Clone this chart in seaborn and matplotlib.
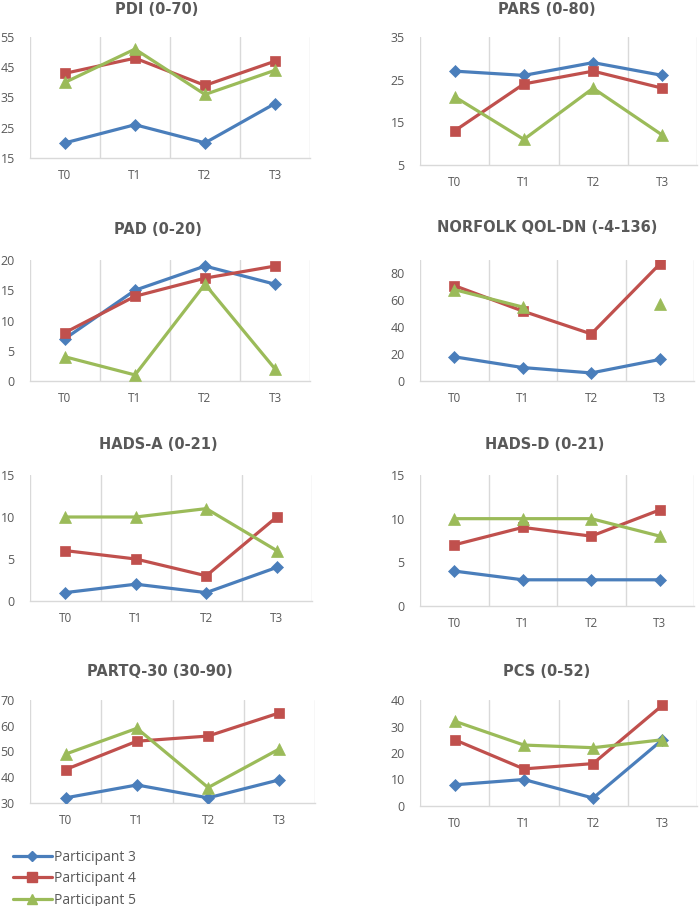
import numpy as np
import pandas as pd
import matplotlib
matplotlib.use("Agg")
import matplotlib.pyplot as plt
from matplotlib.lines import Line2D
import seaborn as sns

sns.set_theme(style="white")
plt.rcParams["font.family"] = ["Open Sans", "DejaVu Sans"]

timepoints = ["T0", "T1", "T2", "T3"]
participants = ["Participant 3", "Participant 4", "Participant 5"]

pdi = [[20, 26, 20, 33], [43, 48, 39, 47], [40, 51, 36, 44]]
pars = [[27, 26, 29, 26], [13, 24, 27, 23], [21, 11, 23, 12]]
pad = [[7, 15, 19, 16], [8, 14, 17, 19], [4, 1, 16, 2]]
norfolk = [[18, 10, 6, 16], [71, 52, 35, 87], [68, 55, np.nan, 57]]
hads_a = [[1, 2, 1, 4], [6, 5, 3, 10], [10, 10, 11, 6]]
hads_d = [[4, 3, 3, 3], [7, 9, 8, 11], [10, 10, 10, 8]]
partq = [[32, 37, 32, 39], [43, 54, 56, 65], [49, 59, 36, 51]]
pcs = [[8, 10, 3, 25], [25, 14, 16, 38], [32, 23, 22, 25]]

colors = ["#4A7EBB", "#C0504D", "#9BBB59"]
markers = ["D", "s", "^"]
msizes = [6.5, 7.5, 8.5]

W, H = 699, 906
fig = plt.figure(figsize=(W / 100, H / 100), dpi=100)

# (title, data, ylim, yticks, axes box in px (x0, x1, y0, y1), title pos px)
panels = [
    ("PDI (0-70)", pdi, (15, 55), [15, 25, 35, 45, 55], (30, 310, 37, 158), (157, 9)),
    ("PARS (0-80)", pars, (5, 35), [5, 15, 25, 35], (420, 697, 37, 165), (547, 9)),
    ("PAD (0-20)", pad, (0, 20), [0, 5, 10, 15, 20], (30, 310, 260, 381), (158, 229)),
    ("NORFOLK QOL-DN (-4-136)", norfolk, (0, 90), [0, 20, 40, 60, 80], (420, 694, 260, 381), (547, 228)),
    ("HADS-A (0-21)", hads_a, (0, 15), [0, 5, 10, 15], (30, 312, 475, 601), (158, 444)),
    ("HADS-D (0-21)", hads_d, (0, 15), [0, 5, 10, 15], (420, 694, 475, 606), (545, 444)),
    ("PARTQ-30 (30-90)", partq, (30, 70), [30, 40, 50, 60, 70], (30, 315, 700, 803), (160, 671)),
    ("PCS (0-52)", pcs, (0, 40), [0, 10, 20, 30, 40], (420, 697, 700, 806), (547, 671)),
]

grid_c = "#D9D9D9"
text_c = "#595959"
xs = np.arange(len(timepoints))

for title, data, ylim, yticks, box, tpos in panels:
    x0, x1, y0, y1 = box
    ax = fig.add_axes([x0 / W, 1 - y1 / H, (x1 - x0) / W, (y1 - y0) / H])
    for i, vals in enumerate(data):
        vals = np.array(vals, dtype=float)
        # split into runs of valid values so gaps are not bridged
        ok = ~np.isnan(vals)
        runs, cur = [], []
        for k in range(len(vals)):
            if ok[k]:
                cur.append(k)
            elif cur:
                runs.append(cur)
                cur = []
        if cur:
            runs.append(cur)
        for r in runs:
            sns.lineplot(x=xs[r], y=vals[r], ax=ax, color=colors[i],
                         marker=markers[i], markersize=msizes[i],
                         markeredgecolor=colors[i], markeredgewidth=0.5,
                         linewidth=2.3, legend=False, zorder=3 + i)
    ax.set_xlim(-0.5, 3.5)
    ax.set_ylim(*ylim)
    ax.set_yticks(yticks)
    ax.set_xticks(xs)
    ax.set_xticklabels(timepoints)
    for g in np.arange(-0.5, 4.0, 1.0):
        ax.axvline(g, color=grid_c, lw=1, zorder=1)
    for s in ["top", "right", "left"]:
        ax.spines[s].set_visible(False)
    ax.spines["bottom"].set_color(grid_c)
    ax.spines["bottom"].set_linewidth(1)
    ax.tick_params(axis="y", length=0, pad=11, labelsize=9, labelcolor=text_c)
    ax.tick_params(axis="x", length=0, pad=8, labelsize=8.5, labelcolor=text_c)
    ax.set_xlabel("")
    ax.set_ylabel("")
    ax.set_facecolor("none")
    fig.text(tpos[0] / W, 1 - tpos[1] / H, title, ha="center", va="center",
             fontsize=10.5, fontweight="bold", color=text_c,
             family=["DejaVu Sans"])

handles = [Line2D([], [], color=colors[i], marker=markers[i], markersize=msizes[i] - 1,
                  markeredgecolor=colors[i], linewidth=2.3) for i in range(3)]
fig.legend(handles, participants, loc="upper left",
           bbox_to_anchor=(13 / W, 1 - 850 / H), frameon=False,
           borderpad=0, borderaxespad=0, handlelength=2.8, handletextpad=0.15,
           labelspacing=0.45, fontsize=10, labelcolor=text_c)

fig.savefig("out.png", dpi=100, facecolor="white")
